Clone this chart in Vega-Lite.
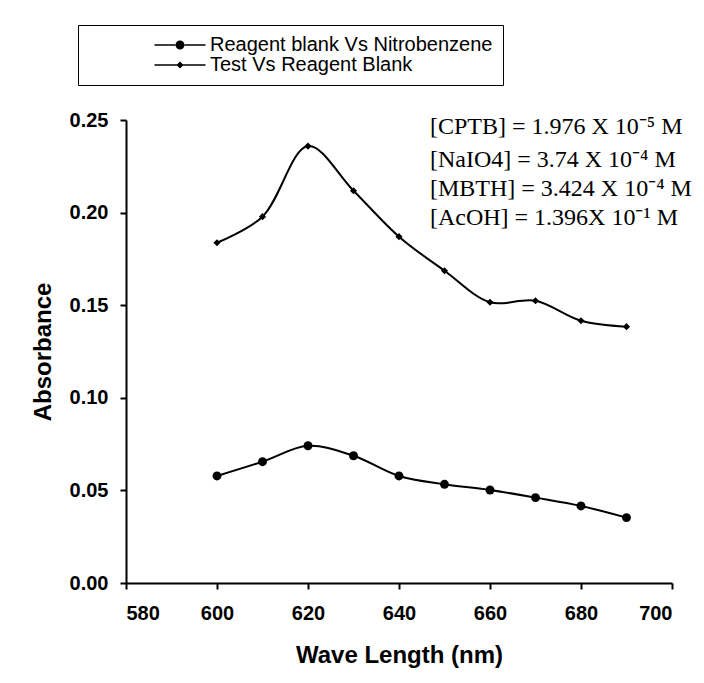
{
  "$schema": "https://vega.github.io/schema/vega-lite/v6.json",
  "width": 546,
  "height": 463,
  "autosize": "none",
  "padding": {"left": 126, "top": 120, "right": 32, "bottom": 100},
  "background": "white",
  "config": {
    "view": {"stroke": null},
    "axis": {
      "domainColor": "black", "domainWidth": 2, "tickColor": "black", "tickWidth": 2, "tickSize": 6,
      "grid": false, "labelFont": "Liberation Sans", "labelFontWeight": "bold", "labelFontSize": 20,
      "labelColor": "black", "titleFont": "Liberation Sans", "titleFontWeight": "bold", "titleFontSize": 24,
      "titleColor": "black"
    }
  },
  "resolve": {"scale": {"shape": "independent"}, "legend": {"shape": "independent"}},
  "datasets": {
    "series": [
      {"wl": 600, "abs": 0.0578, "series": "Reagent blank Vs Nitrobenzene"},
      {"wl": 610, "abs": 0.0655, "series": "Reagent blank Vs Nitrobenzene"},
      {"wl": 620, "abs": 0.0741, "series": "Reagent blank Vs Nitrobenzene"},
      {"wl": 630, "abs": 0.0687, "series": "Reagent blank Vs Nitrobenzene"},
      {"wl": 640, "abs": 0.0578, "series": "Reagent blank Vs Nitrobenzene"},
      {"wl": 650, "abs": 0.0533, "series": "Reagent blank Vs Nitrobenzene"},
      {"wl": 660, "abs": 0.0502, "series": "Reagent blank Vs Nitrobenzene"},
      {"wl": 670, "abs": 0.0461, "series": "Reagent blank Vs Nitrobenzene"},
      {"wl": 680, "abs": 0.0416, "series": "Reagent blank Vs Nitrobenzene"},
      {"wl": 690, "abs": 0.0353, "series": "Reagent blank Vs Nitrobenzene"},
      {"wl": 600, "abs": 0.1837, "series": "Test Vs Reagent Blank"},
      {"wl": 610, "abs": 0.1978, "series": "Test Vs Reagent Blank"},
      {"wl": 620, "abs": 0.2359, "series": "Test Vs Reagent Blank"},
      {"wl": 630, "abs": 0.2118, "series": "Test Vs Reagent Blank"},
      {"wl": 640, "abs": 0.1870, "series": "Test Vs Reagent Blank"},
      {"wl": 650, "abs": 0.1686, "series": "Test Vs Reagent Blank"},
      {"wl": 660, "abs": 0.1516, "series": "Test Vs Reagent Blank"},
      {"wl": 670, "abs": 0.1524, "series": "Test Vs Reagent Blank"},
      {"wl": 680, "abs": 0.1416, "series": "Test Vs Reagent Blank"},
      {"wl": 690, "abs": 0.1384, "series": "Test Vs Reagent Blank"}
    ],
    "notes": [
      {"wl": 646.8, "abs": 0.2462, "label": "[CPTB] = 1.976 X 10⁻⁵ M"},
      {"wl": 646.8, "abs": 0.2284, "label": "[NaIO4] = 3.74 X 10⁻⁴ M"},
      {"wl": 646.8, "abs": 0.2127, "label": "[MBTH] = 3.424 X 10⁻⁴ M"},
      {"wl": 646.8, "abs": 0.1971, "label": "[AcOH] = 1.396X 10⁻¹ M"}
    ]
  },
  "layer": [
    {
      "data": {"name": "series"},
      "mark": {"type": "line", "interpolate": "catmull-rom", "color": "black", "strokeWidth": 2},
      "encoding": {
        "x": {"field": "wl", "type": "quantitative"},
        "y": {"field": "abs", "type": "quantitative"},
        "detail": {"field": "series"}
      }
    },
    {
      "data": {"name": "series"},
      "mark": {"type": "point", "filled": true, "color": "black", "opacity": 1, "size": 80},
      "encoding": {
        "x": {
          "field": "wl", "type": "quantitative",
          "scale": {"domain": [580, 700], "nice": false, "zero": false},
          "axis": {"values": [580, 600, 620, 640, 660, 680, 700], "title": "Wave Length (nm)", "labelPadding": 14, "titlePadding": 20}
        },
        "y": {
          "field": "abs", "type": "quantitative",
          "scale": {"domain": [0, 0.25], "nice": false},
          "axis": {"values": [0, 0.05, 0.1, 0.15, 0.2, 0.25], "format": ".2f", "title": "Absorbance", "labelPadding": 12, "titlePadding": 14}
        },
        "shape": {
          "field": "series", "type": "nominal",
          "scale": {"range": ["circle", "M0,-0.8L0.8,0L0,0.8L-0.8,0Z"]},
          "legend": null
        }
      }
    },
    {
      "data": {"name": "series"},
      "transform": [{"filter": "datum.wl < 0"}],
      "mark": {"type": "point", "filled": true, "color": "black", "opacity": 1},
      "encoding": {
        "x": {"field": "wl", "type": "quantitative"},
        "y": {"field": "abs", "type": "quantitative"},
        "shape": {
          "field": "series", "type": "nominal",
          "scale": {
            "domain": ["Reagent blank Vs Nitrobenzene", "Test Vs Reagent Blank"],
            "range": [
              "M-5.1,-0.15L-0.85,-0.15L-0.85,0.15L-5.1,0.15ZM0.85,-0.15L5.1,-0.15L5.1,0.15L0.85,0.15ZM-0.9,0A0.9,0.9,0,1,0,0.9,0A0.9,0.9,0,1,0,-0.9,0Z",
              "M-5.1,-0.15L-0.6,-0.15L-0.6,0.15L-5.1,0.15ZM0.6,-0.15L5.1,-0.15L5.1,0.15L0.6,0.15ZM0,-0.72L0.72,0L0,0.72L-0.72,0Z"
            ]
          },
          "legend": {
            "title": null, "orient": "none", "legendX": -48, "legendY": -95,
            "strokeColor": "black", "fillColor": "white", "padding": 10,
            "labelFont": "Liberation Sans", "labelFontSize": 20, "labelColor": "black", "labelLimit": 800,
            "symbolSize": 100, "symbolOffset": 82, "labelOffset": 20, "rowPadding": 0,
            "symbolFillColor": "black", "symbolStrokeColor": "black", "symbolOpacity": 1
          }
        }
      }
    },
    {
      "data": {"name": "notes"},
      "mark": {"type": "text", "align": "left", "baseline": "middle", "font": "Liberation Serif", "fontSize": 24, "color": "black"},
      "encoding": {
        "x": {"field": "wl", "type": "quantitative"},
        "y": {"field": "abs", "type": "quantitative"},
        "text": {"field": "label"}
      }
    }
  ]
}
